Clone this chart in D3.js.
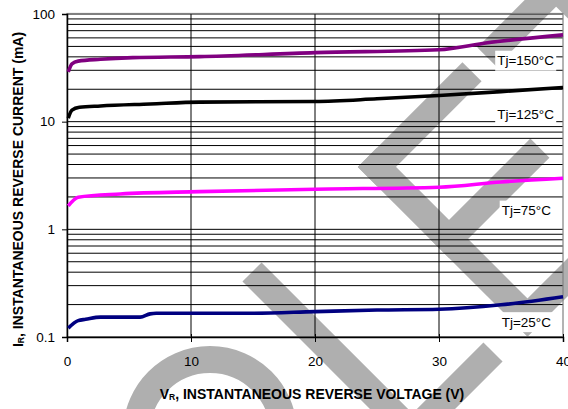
<!DOCTYPE html>
<html>
<head>
<meta charset="utf-8">
<script src="https://cdn.jsdelivr.net/npm/d3@7"></script>
<style>
  html, body { margin: 0; padding: 0; background: #fff; }
  svg { display: block; font-family: "Liberation Sans", Arial, sans-serif; }
</style>
</head>
<body>
<svg id="chart" width="568" height="409"></svg>
<script>
// Axis ticks
const xTicks = [0, 10, 20, 30, 40];
const yTicks = [0.1, 1, 10, 100];
const yTickLabels = ["0.1", "1", "10", "100"];

// Reverse current (mA) against reverse voltage (V), one pair per junction temperature
const vr150 = [0.1, 0.4, 0.9, 2.7, 5.3, 10.7, 20, 30, 33.9, 40];
const ir150 = [29, 34.5, 36.5, 38, 39.3, 40.2, 43.8, 46.5, 54, 64];

const vr125 = [0.1, 0.4, 1.0, 2.7, 6.7, 10.7, 20, 25, 30, 35, 40];
const ir125 = [10.8, 12.8, 13.6, 14.0, 14.6, 15.2, 15.4, 16.3, 17.5, 19, 20.8];

const vr75 = [0.1, 0.9, 4.3, 10.7, 20, 30, 35, 40];
const ir75 = [1.65, 1.99, 2.13, 2.24, 2.36, 2.46, 2.75, 2.98];

const vr25 = [0.1, 0.9, 1.5, 2.7, 5.9, 6.7, 7.2, 14.8, 20, 25, 30, 35, 40];
const ir25 = [0.121, 0.142, 0.146, 0.153, 0.153, 0.164, 0.166, 0.166, 0.172, 0.178, 0.181, 0.199, 0.237];

const seriesLabels = ["Tj=150°C", "Tj=125°C", "Tj=75°C", "Tj=25°C"];
const seriesColors = ["#800080", "#000000", "#ff00ff", "#000080"];
// current level at which each temperature tag sits
const labelLevels = [37, 11.8, 1.5, 0.138];

const series = [
  { v: vr150, i: ir150 },
  { v: vr125, i: ir125 },
  { v: vr75,  i: ir75 },
  { v: vr25,  i: ir25 }
];

const svg = d3.select("#chart");
const plotL = 67, plotR = 563, plotT = 14, plotB = 337;
const font = "'Liberation Sans', Arial, sans-serif";

const x = d3.scaleLinear().domain([0, 40]).range([plotL, plotR]);
const y = d3.scaleLog().domain([0.1, 100]).range([plotB, plotT]);

// Background stamp: large grey lettering running diagonally
const stampColor = "#afafaf";
const stamp = svg.append("g").attr("fill", stampColor).attr("transform", "rotate(-45)");
const bars = [
  [-27.6, 370.5, 27, 240.5],   // L stem
  [-27.6, 584, 127.3, 27],     // L foot
  [135, 371, 27, 240],         // E stem
  [135, 371, 148, 27],         // E top arm
  [135, 473, 142, 27],         // E middle arm
  [135, 584, 148, 27],         // E bottom arm
  [304, 371, 196, 27],         // T bar
  [388.5, 371, 27, 240]        // T stem
];
stamp.selectAll("rect").data(bars).join("rect")
  .attr("x", d => d[0]).attr("y", d => d[1])
  .attr("width", d => d[2]).attr("height", d => d[3]);
stamp.append("circle")
  .attr("cx", -157.7).attr("cy", 454.7).attr("r", 73.5)
  .attr("fill", "none").attr("stroke", stampColor).attr("stroke-width", 27);

// Horizontal grid at every 1..9 step of each decade
const minor = [];
[0.1, 1, 10].forEach(d => { for (let k = 1; k <= 9; k++) minor.push(d * k); });
minor.push(100);
svg.append("g").selectAll("line").data(minor).join("line")
  .attr("x1", plotL).attr("x2", plotR)
  .attr("y1", d => y(d)).attr("y2", d => y(d))
  .attr("stroke", "#000").attr("stroke-width", 1);

// Vertical grid
svg.append("g").selectAll("line").data(xTicks.slice(1, -1)).join("line")
  .attr("x1", d => x(d)).attr("x2", d => x(d))
  .attr("y1", plotT).attr("y2", plotB)
  .attr("stroke", "#000").attr("stroke-width", 1);

// Plot frame
svg.append("rect")
  .attr("x", plotL).attr("y", plotT - 0.5)
  .attr("width", plotR - plotL).attr("height", plotB - plotT + 0.5)
  .attr("fill", "none").attr("stroke", "#808080").attr("stroke-width", 1.2);

// Axes
const xAxis = d3.axisBottom(x).tickValues(xTicks).tickSize(5).tickPadding(14).tickFormat(d3.format("d"));
const gx = svg.append("g").attr("transform", `translate(0,${plotB})`).call(xAxis);
gx.select(".domain").attr("stroke", "#000").attr("stroke-width", 1.5);
gx.selectAll(".tick line").attr("stroke", "#000").attr("y1", -3);
gx.selectAll("text").attr("font-size", 13.5).attr("fill", "#000").attr("font-family", font);

const yAxis = d3.axisLeft(y).tickValues(yTicks).tickSize(5).tickPadding(7)
  .tickFormat((d, i) => yTickLabels[i]);
const gy = svg.append("g").attr("transform", `translate(${plotL},0)`).call(yAxis);
gy.select(".domain").attr("stroke", "#000").attr("stroke-width", 1.5);
gy.selectAll(".tick line").attr("stroke", "#000");
gy.selectAll("text").attr("font-size", 13.5).attr("fill", "#000").attr("font-family", font);

// Curves
const line = d3.line().x(d => x(d[0])).y(d => y(d[1])).curve(d3.curveMonotoneX);
series.forEach((s, k) => {
  svg.append("path")
    .datum(s.v.map((v, j) => [v, s.i[j]]))
    .attr("d", line)
    .attr("fill", "none")
    .attr("stroke", seriesColors[k])
    .attr("stroke-width", 3.6)
    .attr("stroke-linejoin", "round");
});

// Temperature tags on white boxes
const tags = svg.append("g");
seriesLabels.forEach((t, k) => {
  const g = tags.append("g");
  const txt = g.append("text")
    .attr("x", k < 2 ? 554 : 551).attr("y", y(labelLevels[k]))
    .attr("dy", "0.35em")
    .attr("text-anchor", "end")
    .attr("font-size", 13.5).attr("fill", "#000")
    .text(t);
  const b = txt.node().getBBox();
  g.insert("rect", "text")
    .attr("x", b.x - 2).attr("y", b.y - 2.5)
    .attr("width", b.width + 4).attr("height", b.height + 5)
    .attr("fill", "#fff");
});

// Axis titles
const xt = svg.append("text")
  .attr("x", (plotL + plotR) / 2 - 3).attr("y", 399)
  .attr("text-anchor", "middle").attr("font-size", 14).attr("font-weight", "bold");
xt.append("tspan").text("V");
xt.append("tspan").attr("font-size", 8.5).attr("dy", 1).text("R");
xt.append("tspan").attr("dy", -1).text(", INSTANTANEOUS REVERSE VOLTAGE (V)");

const yt = svg.append("text")
  .attr("transform", "translate(23,189.5) rotate(-90)")
  .attr("text-anchor", "middle").attr("font-size", 14).attr("font-weight", "bold");
yt.append("tspan").text("I");
yt.append("tspan").attr("font-size", 8.5).attr("dy", 1).text("R");
yt.append("tspan").attr("dy", -1).text(", INSTANTANEOUS REVERSE CURRENT (mA)");
</script>
</body>
</html>
